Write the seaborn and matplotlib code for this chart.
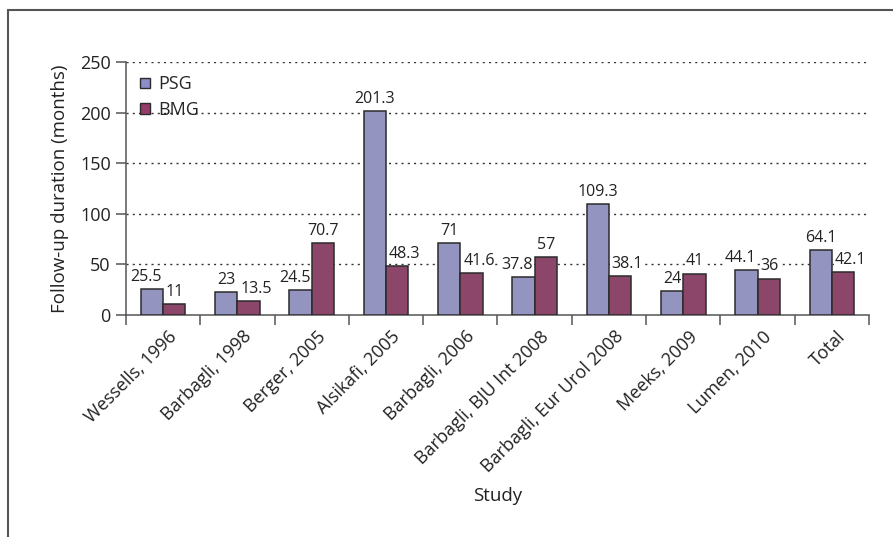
import matplotlib
matplotlib.use("Agg")
import matplotlib.pyplot as plt
import matplotlib.transforms as mtransforms
import seaborn as sns
import pandas as pd
from matplotlib.lines import Line2D
from matplotlib.patches import Patch

studies = ["Wessells, 1996", "Barbagli, 1998", "Berger, 2005", "Alsikafi, 2005",
           "Barbagli, 2006", "Barbagli, BJU Int 2008", "Barbagli, Eur Urol 2008",
           "Meeks, 2009", "Lumen, 2010", "Total"]
psg = [25.5, 23, 24.5, 201.3, 71, 37.8, 109.3, 24, 44.1, 64.1]
bmg = [11, 13.5, 70.7, 48.3, 41.6, 57, 38.1, 41, 36, 42.1]
psg_labels = ["25.5", "23", "24.5", "201.3", "71", "37.8", "109.3", "24", "44.1", "64.1"]
bmg_labels = ["11", "13.5", "70.7", "48.3", "41.6", "57", "38.1", "41", "36", "42.1"]
groups = ["PSG", "BMG"]
colors = ["#8C8DC7", "#963A6A"]

df = pd.DataFrame({
    "Study": studies * 2,
    "Value": psg + bmg,
    "Group": [groups[0]] * len(studies) + [groups[1]] * len(studies),
})

sns.set_style("white")
plt.rcParams["font.family"] = ["Open Sans", "DejaVu Sans"]

fig = plt.figure(figsize=(8.93, 5.37), dpi=100)
ax = fig.add_axes([126 / 893, 1 - 315 / 537, (869 - 126) / 893, (315 - 62) / 537])

sns.barplot(data=df, x="Study", y="Value", hue="Group", palette=colors, width=0.6,
            edgecolor="#2b2b2b", linewidth=1.1, ax=ax, legend=False, zorder=3)

c_psg, c_bmg = ax.containers[0], ax.containers[1]
lab_kw = dict(padding=3, fontsize=11.5, color="#222222",
              bbox=dict(facecolor="white", edgecolor="none", pad=0.5), zorder=2)
ann_psg = ax.bar_label(c_psg, labels=psg_labels, **lab_kw)
ann_bmg = ax.bar_label(c_bmg, labels=bmg_labels, **lab_kw)


def push_left(a, bar):
    a.xy = (bar.get_x() + bar.get_width(), bar.get_height())
    a.xyann = (-1, 3)
    a.set_ha("right")


def push_right(a, bar):
    a.xy = (bar.get_x(), bar.get_height())
    a.xyann = (2, 3)
    a.set_ha("left")


# move the label of the shorter bar away from its taller neighbour
for i in range(len(studies)):
    bp, bb = c_psg[i], c_bmg[i]
    if bp.get_height() < bb.get_height():
        push_left(ann_psg[i], bp)
    else:
        push_right(ann_bmg[i], bb)

ax.set_ylim(0, 250)
ax.set_xlim(-0.5, len(studies) - 0.5)

# if the two labels of a pair still collide, push the other one outward too
fig.canvas.draw()
r = fig.canvas.get_renderer()
for i in range(len(studies)):
    ea = ann_psg[i].get_window_extent(r)
    eb = ann_bmg[i].get_window_extent(r)
    if ea.overlaps(eb):
        if c_psg[i].get_height() >= c_bmg[i].get_height():
            push_left(ann_psg[i], c_psg[i])
        else:
            push_right(ann_bmg[i], c_bmg[i])

ax.set_yticks([0, 50, 100, 150, 200, 250])
for yv in [50, 100, 150, 200, 250]:
    ax.axhline(yv, xmin=0, xmax=0.996, color="#333333", linestyle=(0, (1.5, 3)),
               linewidth=1.0, zorder=1)

ax.set_xticks(range(len(studies)))
ax.set_xticklabels(studies, rotation=45, ha="right", rotation_mode="anchor",
                   fontsize=13, color="#222222")
ax.tick_params(axis="x", length=0, pad=9)
# boundary ticks
ax.set_xticks([i - 0.5 for i in range(len(studies) + 1)], minor=True)
ax.tick_params(axis="x", which="minor", length=7, width=1.1, color="#555555", direction="out")
ax.tick_params(axis="y", length=7, width=1.1, color="#555555", direction="out",
               labelsize=13, labelcolor="#222222", pad=4)
ax.yaxis.set_ticks_position("left")
ax.xaxis.set_ticks_position("bottom")

shift = mtransforms.ScaledTranslation(5 / 100, 0, fig.dpi_scale_trans)
for lab in ax.get_xticklabels():
    lab.set_transform(lab.get_transform() + shift)

for s in ["top", "right"]:
    ax.spines[s].set_visible(False)
for s in ["left", "bottom"]:
    ax.spines[s].set_color("#555555")
    ax.spines[s].set_linewidth(1.1)

ax.set_ylabel("Follow-up duration (months)", fontsize=13.5, color="#222222", labelpad=8)
ax.set_xlabel("Study", fontsize=13.5, color="#222222", labelpad=8)

handles = [Patch(facecolor=c, edgecolor="#2b2b2b", linewidth=1.0) for c in colors]
ax.legend(handles, groups, loc="upper left", bbox_to_anchor=(0.004, 0.99), frameon=False,
          fontsize=13, handlelength=0.55, handleheight=0.55, handletextpad=0.45,
          labelspacing=0.4, borderaxespad=0.2)

fig.add_artist(Line2D([8 / 893, 8 / 893], [0, 1 - 10 / 537], transform=fig.transFigure,
                      color="#555555", linewidth=1.5))
fig.add_artist(Line2D([8 / 893, 1], [1 - 10 / 537, 1 - 10 / 537], transform=fig.transFigure,
                      color="#555555", linewidth=1.5))

fig.savefig("out.png", dpi=100)
